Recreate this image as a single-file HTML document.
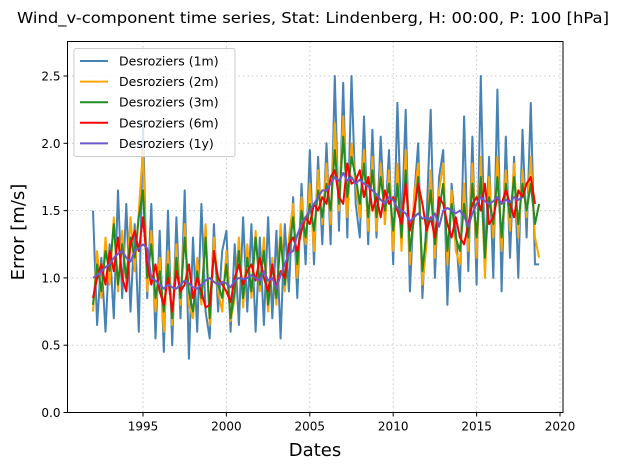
<!DOCTYPE html>
<html><head><meta charset="utf-8"><style>
html,body{margin:0;padding:0;background:#fff;}
svg{display:block;font-family:"DejaVu Sans","Liberation Sans",sans-serif;}
</style></head><body>
<svg id="chart" width="627" height="470" viewBox="0 0 627 470">
<text x="313" y="23" text-anchor="middle" font-size="15.5" textLength="592" lengthAdjust="spacingAndGlyphs">Wind_v-component time series, Stat: Lindenberg, H: 00:00, P: 100 [hPa]</text>
<g id="grid"></g>
<g id="series"></g>
<rect x="67.5" y="41.5" width="495.5" height="371" fill="none" stroke="#000" stroke-width="1"/>
<g id="ticks"></g>
<text x="315" y="456" text-anchor="middle" font-size="18">Dates</text>
<text transform="translate(24,232) rotate(-90)" text-anchor="middle" font-size="18">Error [m/s]</text>
<g id="legend"></g>
</svg>
<script>
const dates = [1992.0,1992.25,1992.5,1992.75,1993.0,1993.25,1993.5,1993.75,1994.0,1994.25,1994.5,1994.75,1995.0,1995.25,1995.5,1995.75,1996.0,1996.25,1996.5,1996.75,1997.0,1997.25,1997.5,1997.75,1998.0,1998.25,1998.5,1998.75,1999.0,1999.25,1999.5,1999.75,2000.0,2000.25,2000.5,2000.75,2001.0,2001.25,2001.5,2001.75,2002.0,2002.25,2002.5,2002.75,2003.0,2003.25,2003.5,2003.75,2004.0,2004.25,2004.5,2004.75,2005.0,2005.25,2005.5,2005.75,2006.0,2006.25,2006.5,2006.75,2007.0,2007.25,2007.5,2007.75,2008.0,2008.25,2008.5,2008.75,2009.0,2009.25,2009.5,2009.75,2010.0,2010.25,2010.5,2010.75,2011.0,2011.25,2011.5,2011.75,2012.0,2012.25,2012.5,2012.75,2013.0,2013.25,2013.5,2013.75,2014.0,2014.25,2014.5,2014.75,2015.0,2015.25,2015.5,2015.75,2016.0,2016.25,2016.5,2016.75,2017.0,2017.25,2017.5,2017.75,2018.0,2018.25,2018.5,2018.75];
const s1m = [1.5,0.65,1.15,0.6,1.25,0.7,1.65,0.85,1.55,0.75,1.4,0.6,2.15,0.85,1.55,0.55,1.35,0.45,1.5,0.5,1.45,0.7,1.65,0.4,1.3,0.6,1.55,0.75,0.55,1.4,0.75,1.2,1.35,0.6,1.25,0.65,1.45,0.75,1.4,0.6,1.3,0.65,1.45,0.7,1.35,0.55,1.4,0.9,1.6,0.85,1.7,1.1,1.95,1.1,1.9,1.25,2.0,1.25,2.5,1.35,2.45,1.3,2.5,1.55,1.3,2.2,1.25,2.1,1.3,2.05,1.4,1.95,1.1,2.3,1.35,2.25,0.9,1.6,2.0,0.85,1.45,2.25,1.0,1.75,1.95,0.8,1.7,1.35,0.9,2.2,1.05,2.05,0.95,2.5,1.1,1.9,1.0,2.4,0.9,2.05,1.15,1.9,1.0,2.1,1.3,2.3,1.1,1.1];
const s2m = [0.75,1.2,0.85,1.3,0.95,1.45,0.9,1.35,0.95,1.45,1.05,1.5,1.95,0.9,1.35,0.75,1.15,0.6,1.2,0.65,1.25,0.8,1.4,0.8,0.7,1.15,0.8,1.4,0.65,1.3,0.9,0.75,1.2,0.68,0.85,1.3,0.78,1.25,0.85,1.35,0.9,1.3,0.75,1.15,0.8,1.4,0.9,1.3,1.55,1.0,1.6,1.25,1.7,1.2,1.8,1.4,1.85,1.4,2.15,1.5,2.2,1.45,2.0,1.7,1.45,1.95,1.35,1.9,1.35,1.85,1.4,1.8,1.2,1.85,1.2,1.95,1.1,1.6,1.85,0.95,1.25,1.8,1.15,1.65,1.85,1.1,1.65,1.2,1.1,1.7,1.2,1.85,1.15,1.9,1.0,1.75,1.3,1.9,1.2,1.8,1.35,1.85,1.3,1.8,1.45,1.9,1.3,1.15];
const s3m = [0.8,1.1,0.9,1.2,1.05,1.4,0.95,1.25,1.0,1.3,1.15,1.45,1.65,1.0,1.25,0.85,1.05,0.75,1.1,0.7,1.15,0.85,1.3,0.9,0.75,1.05,0.85,1.3,0.7,1.2,0.95,0.85,1.1,0.7,0.9,1.2,0.85,1.15,0.9,1.3,0.95,1.2,0.8,1.1,0.85,1.3,0.95,1.2,1.45,1.1,1.5,1.3,1.55,1.35,1.65,1.45,1.7,1.5,1.95,1.55,2.05,1.6,1.9,1.75,1.55,1.85,1.45,1.8,1.45,1.75,1.5,1.7,1.35,1.7,1.3,1.8,1.2,1.45,1.75,1.05,1.35,1.65,1.25,1.5,1.7,1.2,1.55,1.3,1.2,1.55,1.3,1.7,1.3,1.75,1.15,1.6,1.4,1.75,1.3,1.7,1.45,1.75,1.4,1.7,1.5,1.7,1.4,1.55];
const s6m = [0.85,1.0,1.1,0.95,1.2,1.05,1.3,1.0,0.9,1.25,1.35,1.2,1.45,1.1,0.95,1.1,0.9,0.8,1.0,0.75,1.05,0.9,0.95,1.1,0.85,1.0,0.9,0.78,0.8,1.2,1.0,0.95,0.9,0.82,1.0,1.1,0.95,1.05,1.1,0.98,1.15,1.0,0.9,1.1,0.92,1.05,1.0,1.25,1.3,1.2,1.35,1.45,1.4,1.55,1.5,1.6,1.55,1.75,1.8,1.6,1.55,1.85,1.7,1.72,1.8,1.6,1.75,1.5,1.6,1.45,1.65,1.55,1.6,1.5,1.4,1.7,1.35,1.5,1.7,1.55,1.35,1.45,1.3,1.6,1.55,1.4,1.3,1.45,1.3,1.25,1.4,1.55,1.6,1.5,1.7,1.4,1.45,1.6,1.55,1.65,1.55,1.45,1.65,1.6,1.7,1.75,1.55,null];
const s1y = [1.0,1.02,1.05,1.08,1.1,1.15,1.18,1.2,1.15,1.12,1.2,1.22,1.25,1.22,1.0,0.98,0.95,0.92,0.95,0.93,0.92,0.95,0.98,0.96,0.93,0.92,0.95,0.98,1.0,0.97,0.95,0.97,0.96,0.93,0.98,1.0,0.99,1.0,1.02,1.0,0.98,1.05,0.98,1.0,0.92,1.02,1.1,1.18,1.2,1.32,1.4,1.45,1.5,1.55,1.6,1.65,1.65,1.7,1.75,1.72,1.78,1.72,1.75,1.7,1.73,1.7,1.68,1.65,1.62,1.58,1.55,1.6,1.58,1.52,1.5,1.48,1.42,1.45,1.48,1.44,1.45,1.43,1.48,1.38,1.5,1.52,1.5,1.48,1.5,1.46,1.38,1.48,1.55,1.6,1.57,1.55,1.57,1.6,1.55,1.58,1.56,1.6,1.58,1.6,null,null,null,null];
const seriesNames = ["Desroziers (1m)","Desroziers (2m)","Desroziers (3m)","Desroziers (6m)","Desroziers (1y)"];
const yTicks = [0.0,0.5,1.0,1.5,2.0,2.5];
const xTicks = [1995,2000,2005,2010,2015,2020];

const NS = "http://www.w3.org/2000/svg";
const L = 67.5, R = 563, T = 41.5, B = 412.5;
function xs(v){ return 143 + (v - 1995) * (560 - 143) / 25; }
function ys(v){ return 412.5 - v * 134.6; }
function mk(tag, attrs, parent){ const e = document.createElementNS(NS, tag); for (const k in attrs) e.setAttribute(k, attrs[k]); parent.appendChild(e); return e; }

const grid = document.getElementById('grid');
const ticks = document.getElementById('ticks');
xTicks.forEach(t => {
  const g = mk('line', {x1: xs(t), x2: xs(t), y1: T, y2: B, stroke: '#c8c8c8', 'stroke-width': 1, 'stroke-dasharray': '1.5,3'}, grid);
  
  
  const tk = mk('line', {x1: xs(t), x2: xs(t), y1: B, y2: B + 4, stroke: '#000'}, ticks);
  
  
  const lb = mk('text', {x: xs(t), y: B + 18, 'text-anchor': 'middle', 'font-size': 12}, ticks);
  lb.textContent = t;
  
  
});
yTicks.forEach(t => {
  const g = mk('line', {x1: L, x2: R, y1: ys(t), y2: ys(t), stroke: '#c8c8c8', 'stroke-width': 1, 'stroke-dasharray': '1.5,3'}, grid);
  
  
  const tk = mk('line', {x1: L - 4, x2: L, y1: ys(t), y2: ys(t), stroke: '#000'}, ticks);
  
  
  const lb = mk('text', {x: L - 7, y: ys(t) + 4.5, 'text-anchor': 'end', 'font-size': 12}, ticks);
  lb.textContent = t.toFixed(1);
  
  
});

const allSeries = [s1m, s2m, s3m, s6m, s1y];
const colors = ['#4682b4', '#ffa500', '#228b22', '#ff0000', '#6a5acd'];
const sg = document.getElementById('series');
allSeries.forEach((arr, i) => {
  let d = '';
  let started = false;
  arr.forEach((v, j) => {
    if (v === null) return;
    d += (started ? 'L' : 'M') + xs(dates[j]).toFixed(1) + ',' + ys(v).toFixed(1);
    started = true;
  });
  const p = mk('path', {d: d, fill: 'none', stroke: colors[i], 'stroke-width': 2, 'stroke-linejoin': 'round'}, sg);
  
  
});

const lg = document.getElementById('legend');
const box = mk('rect', {x: 74, y: 48.5, width: 161, height: 108, rx: 2, fill: '#fff', 'fill-opacity': 0.8, stroke: '#ccc'}, lg);


seriesNames.forEach((n, i) => {
  const y = 61 + i * 20.6;
  const ln = mk('line', {x1: 80, x2: 108, y1: y, y2: y, stroke: colors[i], 'stroke-width': 2}, lg);
  
  
  const tx = mk('text', {x: 119, y: y + 4.5, 'font-size': 12.5}, lg);
  tx.textContent = n;
  
  
});
</script>
</body></html>
